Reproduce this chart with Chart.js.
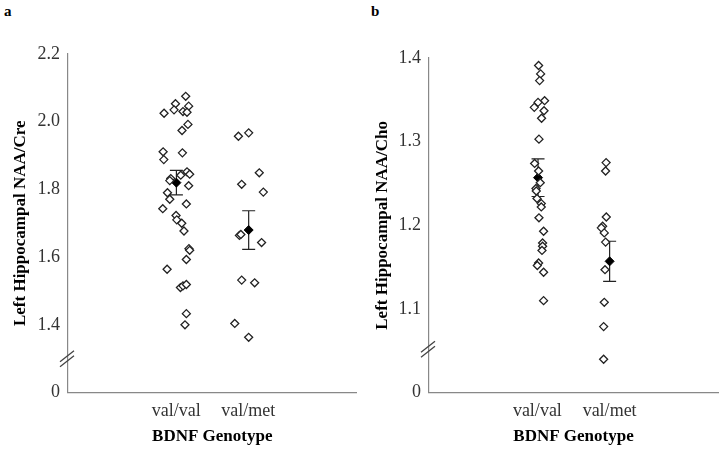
<!DOCTYPE html>
<html><head><meta charset="utf-8">
<script src="https://cdn.jsdelivr.net/npm/chart.js@4.4.0/dist/chart.umd.min.js"></script>
<style>
html,body{margin:0;padding:0;background:#fff;}
#wrap{position:relative;width:724px;height:455px;overflow:hidden;}
.pan{position:absolute;top:0;width:362px;height:455px;}
.lab{position:absolute;font:bold 15px "Liberation Serif",serif;color:#000;line-height:15px;}
</style></head><body>
<div id="wrap">
<div class="lab" style="left:4px;top:4px">a</div>
<div class="lab" style="left:371px;top:4px">b</div>
<div class="pan" style="left:0"><canvas id="ca" width="362" height="455"></canvas></div>
<div class="pan" style="left:362px"><canvas id="cb" width="362" height="455"></canvas></div>
</div>
<script>
// ---- categories ----
const categories = ['val/val', 'val/met'];
const categoryX = [1.5, 2.5];
const xTitle = 'BDNF Genotype';

// ---- panel a: Left Hippocampal NAA/Cre ----
const aValValX = [1.632,1.490,1.673,1.470,1.332,1.594,1.650,1.663,1.581,1.586,1.319,1.328,1.650,1.687,1.563,1.425,1.411,1.673,1.379,1.411,1.641,1.314,1.498,1.508,1.577,1.608,1.677,1.687,1.641,1.374,1.559,1.594,1.641,1.641,1.622];
const aValValY = [2.075,2.053,2.046,2.035,2.025,2.030,2.028,1.992,1.974,1.908,1.911,1.888,1.852,1.845,1.842,1.832,1.826,1.811,1.790,1.771,1.757,1.743,1.723,1.710,1.700,1.677,1.625,1.620,1.593,1.564,1.510,1.515,1.519,1.433,1.400];
const aValMetX = [2.363,2.505,2.652,2.408,2.708,2.377,2.397,2.684,2.408,2.588,2.312,2.505];
const aValMetY = [1.957,1.967,1.849,1.815,1.792,1.664,1.667,1.643,1.532,1.524,1.404,1.363];
const aMeanX = [1.503, 2.505];
const aMean = [1.820, 1.680];
const aErr = [0.036, 0.057];
const aTicks = [1.2, 1.4, 1.6, 1.8, 2.0, 2.2];
const aTickLabels = ['0', '1.4', '1.6', '1.8', '2.0', '2.2'];
const aBreak = 1.3;
const aTitle = 'Left Hippocampal NAA/Cre';

// ---- panel b: Left Hippocampal NAA/Cho ----
const bValValX = [1.517,1.545,1.531,1.600,1.509,1.457,1.592,1.558,1.522,1.462,1.517,1.540,1.481,1.485,1.495,1.554,1.554,1.522,1.586,1.572,1.572,1.564,1.517,1.499,1.586,1.586];
const bValValY = [1.391,1.381,1.373,1.349,1.347,1.341,1.337,1.328,1.303,1.274,1.265,1.251,1.244,1.241,1.232,1.226,1.222,1.209,1.193,1.179,1.175,1.170,1.155,1.152,1.144,1.110];
const bValMetX = [2.451,2.444,2.454,2.403,2.385,2.426,2.444,2.436,2.426,2.417,2.417];
const bValMetY = [1.275,1.265,1.210,1.199,1.197,1.191,1.180,1.147,1.108,1.079,1.040];
const bMeanX = [1.509, 2.500];
const bMean = [1.257, 1.157];
const bErr = [0.0225, 0.024];
const bTicks = [1.0, 1.1, 1.2, 1.3, 1.4];
const bTickLabels = ['0', '1.1', '1.2', '1.3', '1.4'];
const bBreak = 1.052;
const bTitle = 'Left Hippocampal NAA/Cho';

Chart.defaults.font.family = '"Liberation Serif", "Times New Roman", serif';
Chart.defaults.color = '#333';

const zip = (xs, ys) => xs.map((x, i) => ({x: x, y: ys[i]}));

function makePanel(id, p) {
  const extras = {
    id: 'extras',
    beforeDatasetsDraw(chart) {
      const ctx = chart.ctx, xs = chart.scales.x, ys = chart.scales.y;
      ctx.save();
      ctx.strokeStyle = '#222';
      ctx.lineWidth = 1.2;
      for (let i = 0; i < p.mean.length; i++) {
        const x = xs.getPixelForValue(p.meanX[i]);
        const yt = ys.getPixelForValue(p.mean[i] + p.err[i]);
        const yb = ys.getPixelForValue(p.mean[i] - p.err[i]);
        ctx.beginPath();
        ctx.moveTo(x, yt); ctx.lineTo(x, yb);
        ctx.moveTo(x - 6.5, yt); ctx.lineTo(x + 6.5, yt);
        ctx.moveTo(x - 6.5, yb); ctx.lineTo(x + 6.5, yb);
        ctx.stroke();
      }
      ctx.restore();
    },
    afterDraw(chart) {
      const ctx = chart.ctx, ys = chart.scales.y;
      const x = chart.chartArea.left;
      const y = ys.getPixelForValue(p.brk);
      ctx.save();
      ctx.strokeStyle = '#444';
      ctx.lineWidth = 1.3;
      ctx.beginPath();
      ctx.moveTo(x - 8, y + 3); ctx.lineTo(x + 6, y - 8);
      ctx.moveTo(x - 8, y + 8); ctx.lineTo(x + 6, y - 3);
      ctx.stroke();
      ctx.restore();
    }
  };
  const pointBase = {
    showLine: false,
    pointStyle: 'rectRot',
    pointRadius: 4,
    pointBorderWidth: 1.3,
    pointBorderColor: '#222',
    pointBackgroundColor: '#fff'
  };
  return new Chart(document.getElementById(id), {
    type: 'scatter',
    data: {
      datasets: [
        Object.assign({label: categories[0], data: zip(p.vvX, p.vvY)}, pointBase),
        Object.assign({label: categories[1], data: zip(p.vmX, p.vmY)}, pointBase),
        {label: 'mean', data: zip(p.meanX, p.mean), showLine: false, pointStyle: 'rectRot',
         pointRadius: 4.5, pointBorderWidth: 1, pointBorderColor: '#000', pointBackgroundColor: '#000'}
      ]
    },
    options: {
      responsive: false,
      animation: false,
      layout: {padding: {left: 0, right: p.padR, top: p.padT, bottom: 0}},
      plugins: {legend: {display: false}, tooltip: {enabled: false}},
      scales: {
        x: {
          type: 'linear', min: 0, max: 4,
          grid: {display: false, drawTicks: false},
          border: {display: true, color: '#888', width: 1.2},
          afterBuildTicks: s => { s.ticks = categoryX.map(v => ({value: v})); },
          afterFit: s => { s.height = p.xH; },
          ticks: {autoSkip: false, maxRotation: 0, padding: 8, color: '#333', font: {size: 18},
                  callback: (v, i) => categories[i]},
          title: {display: true, text: xTitle, color: '#000', font: {size: 17, weight: 'bold'},
                  padding: {top: 0, bottom: 8}}
        },
        y: {
          type: 'linear', min: p.ticks[0], max: p.ticks[p.ticks.length - 1],
          grid: {display: false, drawTicks: false},
          border: {display: true, color: '#888', width: 1.2},
          afterBuildTicks: s => { s.ticks = p.ticks.map(v => ({value: v})); },
          afterFit: s => { s.width = p.yW; },
          ticks: {autoSkip: false, padding: 8, color: '#333', font: {size: 18},
                  callback: (v, i) => p.labels[i]},
          title: {display: true, text: p.title, color: '#000', font: {size: 17, weight: 'bold'},
                  padding: {top: 10, bottom: 0}}
        }
      }
    },
    plugins: [extras]
  });
}

makePanel('ca', {vvX: aValValX, vvY: aValValY, vmX: aValMetX, vmY: aValMetY,
  meanX: aMeanX, mean: aMean, err: aErr, ticks: aTicks, labels: aTickLabels, brk: aBreak,
  title: aTitle, padR: 4, padT: 54, xH: 62.5, yW: 68});
makePanel('cb', {vvX: bValValX, vvY: bValValY, vmX: bValMetX, vmY: bValMetY,
  meanX: bMeanX, mean: bMean, err: bErr, ticks: bTicks, labels: bTickLabels, brk: bBreak,
  title: bTitle, padR: 6, padT: 58, xH: 62.3, yW: 67});
</script>
</body></html>
